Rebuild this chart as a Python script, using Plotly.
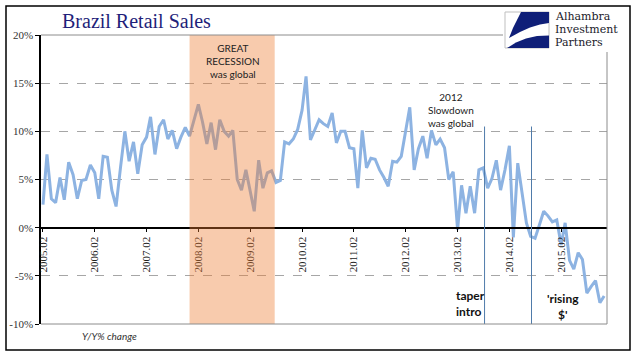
import plotly.graph_objects as go
import pandas as pd

# ---------------- data ----------------
months = pd.date_range("2005-02-01", periods=131, freq="MS")
yoy_pct = [
    2.4, 7.6, 3.0, 2.6, 5.2, 2.9, 6.8, 5.5, 3.0, 4.9, 5.0, 6.5,      # 2005.02-2006.01
    5.7, 3.0, 7.4, 7.3, 3.9, 2.2, 6.2, 10.0, 6.9, 8.9, 5.6, 8.6,     # 2006.02-2007.01
    9.4, 11.5, 7.6, 10.5, 11.2, 9.2, 10.1, 8.2, 9.4, 10.4, 9.5, 11.3, # 2007.02-2008.01
    12.8, 11.0, 8.7, 10.9, 8.1, 11.2, 10.0, 9.5, 10.1, 5.0, 3.9, 6.0, # 2008.02-2009.01
    3.9, 1.7, 7.0, 4.1, 5.7, 5.9, 4.7, 4.9, 8.9, 8.7, 9.2, 10.2,     # 2009.02-2010.01
    12.2, 15.7, 9.1, 10.2, 11.2, 10.8, 10.5, 11.9, 8.8, 10.0, 10.0, 8.3, # 2010.02-2011.01
    8.2, 4.1, 10.1, 6.2, 7.2, 7.1, 6.0, 5.2, 4.3, 6.9, 6.8, 7.4,     # 2011.02-2012.01
    10.0, 12.5, 6.0, 8.2, 9.5, 7.2, 10.1, 8.6, 9.2, 8.3, 5.0, 5.8,   # 2012.02-2013.01
    -0.2, 4.4, 1.5, 4.3, 1.5, 6.0, 6.2, 4.1, 5.1, 7.0, 3.9, 6.0,     # 2013.02-2014.01
    8.5, -1.0, 6.7, 3.6, 0.5, -0.9, -1.1, 0.3, 1.7, 1.2, 0.6, 0.8,   # 2014.02-2015.01
    -1.8, 0.5, -3.4, -4.3, -2.6, -3.3, -6.8, -6.1, -5.5, -7.8, -7.1, # 2015.02-2015.12
]
tick_dates = ["2005-02-01", "2006-02-01", "2007-02-01", "2008-02-01", "2009-02-01", "2010-02-01",
              "2011-02-01", "2012-02-01", "2013-02-01", "2014-02-01", "2015-02-01"]
tick_labels = ["2005.02", "2006.02", "2007.02", "2008.02", "2009.02", "2010.02",
               "2011.02", "2012.02", "2013.02", "2014.02", "2015.02"]
y_ticks = [-10, -5, 0, 5, 10, 15, 20]
y_tick_labels = ["-10%", "-5%", "0%", "5%", "10%", "15%", "20%"]
recession = ("2007-12-01", "2009-07-23")
event_dates = ["2013-08-10", "2014-07-07"]

# ---------------- layout helpers ----------------
W, H = 641, 361
L, R, T, B = 41, 34, 35, 37
PW, PH = W - L - R, H - T - B


def px(x):
    return (x - L) / PW


def py(y):
    return (H - B - y) / PH


def path(points):
    s = "M " + " L ".join(f"{px(x):.4f},{py(y):.4f}" for x, y in points) + " Z"
    return s


fig = go.Figure()
fig.add_trace(go.Scatter(x=months, y=yoy_pct, mode="lines",
                         line=dict(color="#8DB3E2", width=3), hoverinfo="skip"))

shapes = []
# recession shading (drawn above, semi-transparent)
shapes.append(dict(type="rect", xref="x", yref="paper", x0=recession[0], x1=recession[1],
                   y0=0, y1=1, fillcolor="#ED7D31", opacity=0.4, layer="above", line=dict(width=0)))
# event lines
for d in event_dates:
    shapes.append(dict(type="line", xref="x", yref="y", x0=d, x1=d, y0=-10.1, y1=10.5,
                       line=dict(color="#4F7BAA", width=1)))
# plot border (gray)
shapes.append(dict(type="line", xref="paper", yref="paper", x0=0, x1=1, y0=0, y1=0,
                   line=dict(color="#8C8C8C", width=1)))
shapes.append(dict(type="line", xref="paper", yref="paper", x0=0, x1=px(503), y0=1, y1=1,
                   line=dict(color="#8C8C8C", width=1)))
shapes.append(dict(type="line", xref="paper", yref="paper", x0=1, x1=1, y0=0, y1=py(52),
                   line=dict(color="#8C8C8C", width=1)))
# outer frame
shapes.append(dict(type="rect", xref="paper", yref="paper", x0=px(6), x1=px(630),
                   y0=py(350), y1=py(6), line=dict(color="black", width=1.5), layer="above"))
# logo
shapes.append(dict(type="rect", xref="paper", yref="paper", x0=px(505), x1=px(549),
                   y0=py(48), y1=py(12), fillcolor="white", line=dict(color="#BFBFBF", width=1)))
shapes.append(dict(type="path", xref="paper", yref="paper",
                   path=path([(521, 12), (549, 12), (549, 23), (540, 24.5), (530, 27.5),
                              (520, 32), (509, 38), (513, 28), (517, 20)]),
                   fillcolor="#0F1F78", line=dict(width=0)))
shapes.append(dict(type="path", xref="paper", yref="paper",
                   path=path([(507, 48), (549, 48), (549, 35.5), (537, 36), (526, 38.5),
                              (516, 42.5)]),
                   fillcolor="#0F1F78", line=dict(width=0)))

logo_font = dict(family="DejaVu Serif", size=11, color="#1A1A2A")
annotations = [
    dict(text="Brazil Retail Sales", xref="paper", yref="paper", x=px(60), y=py(21),
         xanchor="left", yanchor="middle", showarrow=False,
         font=dict(family="Liberation Serif", size=20, color="#1F1F7A")),
    dict(text="Alhambra", xref="paper", yref="paper", x=px(553), y=py(17),
         xanchor="left", yanchor="middle", showarrow=False, font=logo_font),
    dict(text="Investment", xref="paper", yref="paper", x=px(553), y=py(30),
         xanchor="left", yanchor="middle", showarrow=False, font=logo_font),
    dict(text="Partners", xref="paper", yref="paper", x=px(553), y=py(43),
         xanchor="left", yanchor="middle", showarrow=False, font=logo_font),
    dict(text="GREAT<br>RECESSION<br>was global", xref="paper", yref="paper",
         x=px(233), y=py(61), xanchor="center", yanchor="middle", showarrow=False,
         font=dict(family="Lato", size=10, color="#222222")),
    dict(text="2012<br>Slowdown<br>was global", xref="paper", yref="paper",
         x=px(451), y=py(110), xanchor="center", yanchor="middle", showarrow=False,
         font=dict(family="Lato", size=10, color="#222222")),
    dict(text="<b>taper<br>intro</b>", xref="paper", yref="paper",
         x=px(454), y=py(303), xanchor="left", yanchor="middle", showarrow=False, align="left",
         font=dict(family="Lato", size=12, color="#111111")),
    dict(text="<b>'rising<br>$'</b>", xref="paper", yref="paper",
         x=px(563), y=py(306), xanchor="center", yanchor="middle", showarrow=False,
         font=dict(family="Lato", size=12, color="#111111")),
    dict(text="<i>Y/Y% change</i>", xref="paper", yref="paper",
         x=px(80), y=py(336), xanchor="left", yanchor="middle", showarrow=False,
         font=dict(family="Lato", size=10, color="#333333")),
]

fig.update_layout(
    width=W, height=H,
    margin=dict(l=L, r=R, t=T, b=B, autoexpand=False),
    paper_bgcolor="white", plot_bgcolor="white",
    showlegend=False,
    shapes=shapes,
    annotations=annotations,
    xaxis=dict(type="date", range=["2005-01-18", "2015-12-21"],
               anchor="free", position=1 / 3, automargin=False,
               showline=True, linecolor="black", linewidth=1.5,
               ticks="outside", ticklen=4, tickcolor="black",
               tickvals=tick_dates, ticktext=tick_labels, tickangle=-90,
               tickfont=dict(family="Liberation Serif", size=11, color="#222222"),
               showgrid=False, zeroline=False),
    yaxis=dict(range=[-10, 20], domain=[0, 1], automargin=False,
               tickvals=y_ticks, ticktext=y_tick_labels,
               showline=True, linecolor="black", linewidth=1.5,
               ticks="outside", ticklen=4, tickcolor="black",
               tickfont=dict(family="Liberation Serif", size=11, color="#333333"),
               showgrid=True, gridcolor="#A6A6A6", griddash="dash", gridwidth=1,
               zeroline=False),
)

fig.write_html("out.html", config={"displayModeBar": False},
               post_script="document.body.style.margin='0';document.body.style.overflow='hidden';")
